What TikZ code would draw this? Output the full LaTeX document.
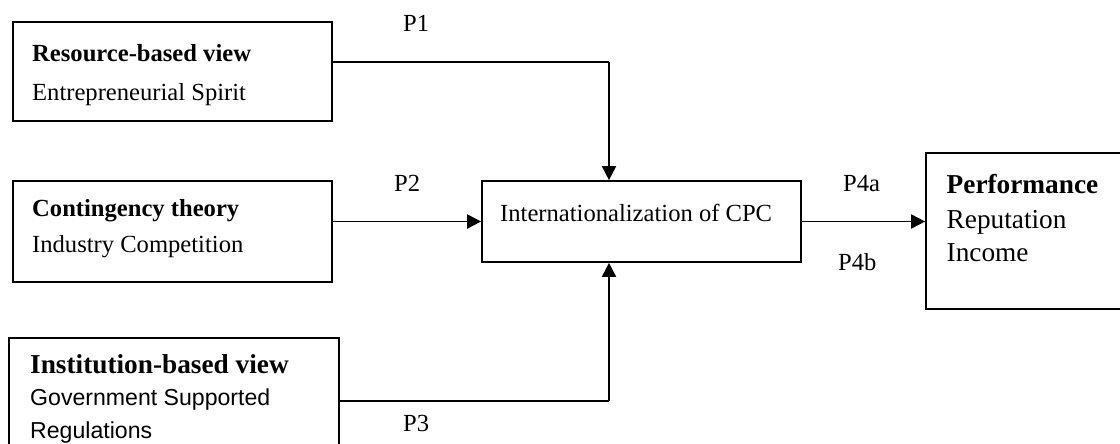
\documentclass[tikz,border=0pt]{standalone}
\usepackage{fontspec}
\setmainfont{Liberation Serif}
\newfontfamily\arialfont{Liberation Sans}
\usetikzlibrary{arrows.meta}
\newcommand{\fsA}{\fontsize{24.6}{28}\selectfont}
\newcommand{\fsB}{\fontsize{27.3}{31}\selectfont}
\newcommand{\fsC}{\fontsize{23.1}{27}\selectfont}
\tikzset{
  boxnode/.style={draw=black, line width=1.7pt, rectangle, inner sep=0pt, fill=none},
  txt/.style={anchor=base west, inner sep=0pt, font=\fsA},
  txtbig/.style={anchor=base west, inner sep=0pt, font=\fsB},
  txtsans/.style={anchor=base west, inner sep=0pt, font=\arialfont\fsC},
  conn/.style={line width=1.9pt},
  arr/.style={line width=1.9pt, -{Triangle[length=14pt,width=14pt]}},
}
\begin{document}
\begin{tikzpicture}[x=1pt,y=-1pt]
\useasboundingbox (0,0) rectangle (1120,444);
\clip (0,0) rectangle (1120,444);
% boxes
\node[boxnode, minimum width=319pt, minimum height=99pt] (b1) at (172.5,71.5) {};
\node[boxnode, minimum width=319pt, minimum height=101pt] (b2) at (172.5,231.5) {};
\node[boxnode, minimum width=330pt, minimum height=124pt] (b3) at (174,400) {};
\node[boxnode, minimum width=319pt, minimum height=81pt] (c) at (641.5,221.5) {};
\node[boxnode, minimum width=204pt, minimum height=156pt] (perf) at (1028,231) {};
% texts
\node[txt] (t1a) at (32,61.7) {\bfseries Resource-based view};
\node[txt] (t1b) at (32,100.7) {Entrepreneurial Spirit};
\node[txt] (t2a) at (32,216) {\bfseries Contingency theory};
\node[txt] (t2b) at (32,252) {Industry Competition};
\node[txtbig] (t3a) at (30,373.3) {\bfseries Institution-based view};
\node[txtsans] (t3b) at (30,405) {Government Supported};
\node[txtsans] (t3c) at (30,438.3) {Regulations};
\node[txt] (tc) at (500,221) {Internationalization of CPC};
\node[txtbig] (tpa) at (946.5,193.3) {\bfseries Performance};
\node[txtbig] (tpb) at (946.5,228.3) {Reputation};
\node[txtbig] (tpc) at (946.5,261.7) {Income};
% labels
\node[txt] (p1) at (403,31.7) {P1};
\node[txt] (p2) at (394,191) {P2};
\node[txt] (p3) at (403,431.7) {P3};
\node[txt] (p4a) at (843,191.7) {P4a};
\node[txt] (p4b) at (838,270.7) {P4b};
% connectors
\coordinate (j1) at (609,62);
\coordinate (j3) at (609,401);
\draw[conn] (b1.east |- j1) -- (j1);
\draw[arr] (j1) -- (j1 |- c.north);
\draw[arr] (c.west -| b2.east) -- (c.west);
\draw[conn] (b3.east |- j3) -- (j3);
\draw[arr] (j3) -- (j3 |- c.south);
\draw[arr] (c.east) -- (c.east -| perf.west);
\end{tikzpicture}
\end{document}
